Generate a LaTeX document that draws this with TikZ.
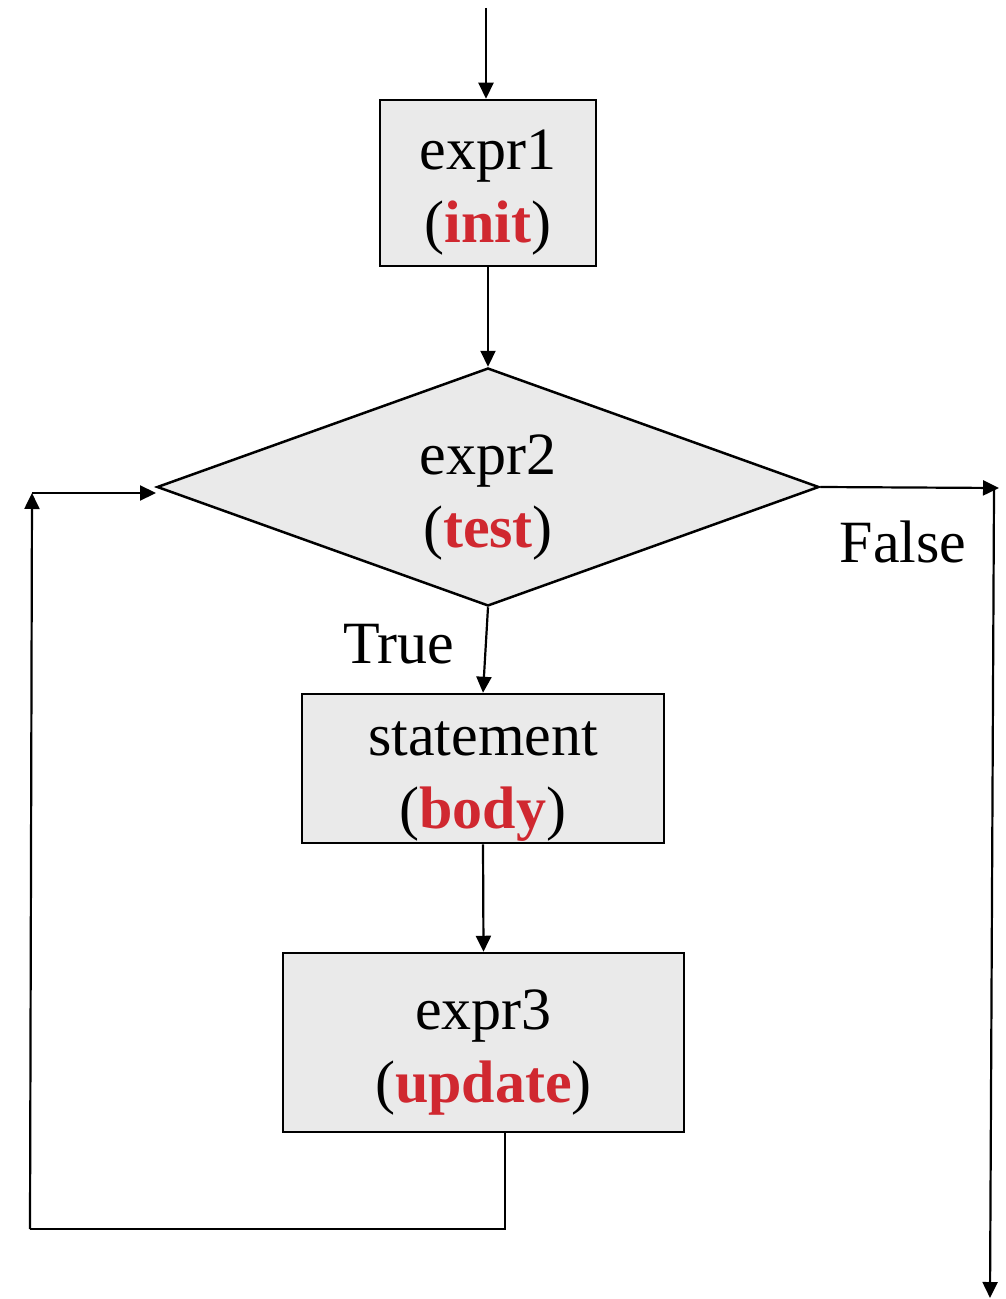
\documentclass[tikz,border=0pt]{standalone}
\usepackage{fontspec}
\setmainfont{Liberation Serif}
\usetikzlibrary{arrows.meta,shapes.geometric,calc}
\definecolor{kw}{RGB}{208,40,48}
\definecolor{boxfill}{RGB}{234,234,234}
\begin{document}
\begin{tikzpicture}[x=0.5pt,y=-0.5pt,
  box/.style={draw,line width=1.25pt,fill=boxfill,inner sep=0pt,align=center,text height=61pt,text depth=1pt},
  dia/.style={box,shape=diamond,aspect=2.78},
  arr/.style={line width=1.1pt,-{Triangle[length=8pt,width=7.5pt]}},
  conn/.style={line width=1.1pt},
  lab/.style={anchor=base,inner sep=0pt},
  font=\fontsize{30}{36.5}\selectfont]
\useasboundingbox (0,0) rectangle (1005,1299);
\node[box,minimum width=108pt,minimum height=83pt] (b1) at (488,183) {expr1\\(\textcolor{kw}{\textbf{init}})};
\node[dia,minimum width=331pt,minimum height=119pt] (d) at (488,487) {expr2\\(\textcolor{kw}{\textbf{test}})};
\node[box,minimum width=181pt,minimum height=74.5pt] (b2) at (483,768.5) {statement\\(\textcolor{kw}{\textbf{body}})};
\node[box,minimum width=200.5pt,minimum height=89.5pt] (b3) at (483.5,1042.5) {expr3\\(\textcolor{kw}{\textbf{update}})};
\node[lab] (t) at (399,663) {True};
\node[lab] (f) at (903,562) {False};
\coordinate (top) at (486,8);
\coordinate (fr) at (999,488);
\coordinate (fv1) at (994,490);
\coordinate (fv2) at (990,1298);
\coordinate (lb) at (505,1229);
\coordinate (lc) at (30,1229);
\coordinate (lt) at (32,493);
\coordinate (lh) at (156,493);
\draw[arr] (top) -- (top |- b1.north);
\draw[arr] (b1.south) -- (d.north);
\draw[arr] (d.south) -- (b2.north);
\draw[arr] (b2.south) -- (b3.north);
\draw[arr] (d.east) -- (fr);
\draw[arr] (fv1) -- (fv2);
\draw[conn] (b3.south -| lb) -- (lb) -- (lc);
\draw[arr] (lc) -- (lt);
\draw[arr] (lt) -- (lh);
\end{tikzpicture}
\end{document}
